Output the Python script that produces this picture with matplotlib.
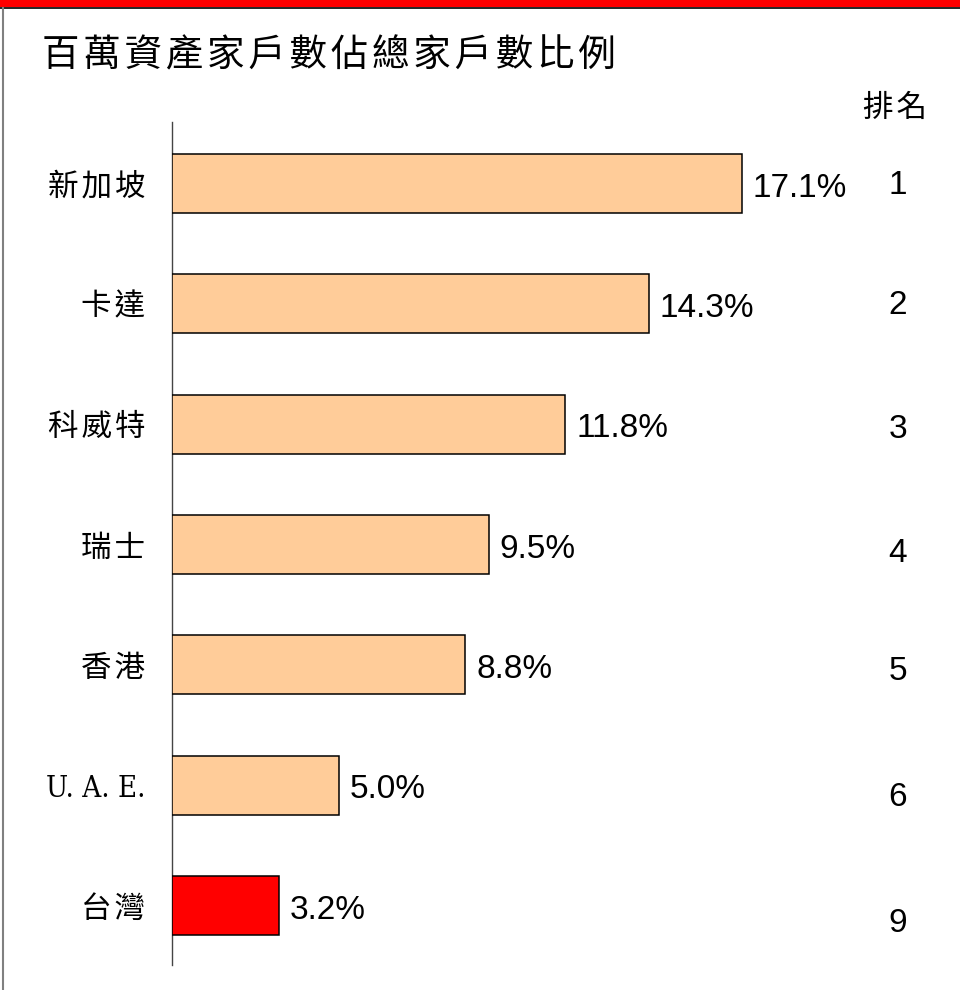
import matplotlib
matplotlib.use("Agg")
import matplotlib.pyplot as plt
from matplotlib.patches import Rectangle
from matplotlib.lines import Line2D

plt.rcParams['font.family'] = ['Noto Sans CJK TC', 'DejaVu Sans']

# data
countries = ['新加坡', '卡達', '科威特', '瑞士', '香港', 'U.A.E.', '台灣']
shares = [17.1, 14.3, 11.8, 9.5, 8.8, 5.0, 3.2]
ranks = [1, 2, 3, 4, 5, 6, 9]
title = '百萬資產家戶數佔總家戶數比例'
rank_header = '排名'

# styling
peach = '#FFCC99'
highlight = '#FF0000'
colors = [highlight if c == '台灣' else peach for c in countries]
HS = '\u200a'  # hair space for looser CJK letter spacing

W, H = 960, 990
fig = plt.figure(figsize=(W / 100, H / 100), dpi=100)

# top red band with black rule, thin grey frame line at left
fig.patches.append(Rectangle((0, 1 - 7 / H), 1, 7 / H, transform=fig.transFigure,
                             facecolor='#FF0000', edgecolor='none', zorder=0))
fig.lines.append(Line2D([0, 1], [1 - 8 / H, 1 - 8 / H], transform=fig.transFigure,
                        color='black', lw=1.2))
fig.lines.append(Line2D([2.5 / W, 2.5 / W], [0, 1 - 8 / H], transform=fig.transFigure,
                        color='#808080', lw=1.5))

ax_left, ax_top, ax_bottom = 172 / W, 1 - 122 / H, 1 - 965 / H
ax = fig.add_axes([ax_left, ax_bottom, 1 - ax_left, ax_top - ax_bottom])
ax.set_facecolor('none')

ypos = list(range(len(countries)))
ax.barh(ypos, shares, height=0.49, color=colors, edgecolor='black', linewidth=1.1, zorder=3)
ax.set_xlim(0, (W - 172) / 33.33)
ax.set_ylim(6.495, -0.511)

for s in ['top', 'right', 'bottom']:
    ax.spines[s].set_visible(False)
ax.spines['left'].set_color('#444444')
ax.spines['left'].set_linewidth(1.0)
ax.set_xticks([])
ax.set_yticks([])

# category labels
for y, name in zip(ypos, countries):
    if name.isascii():
        ax.text(-0.8, y + 0.03, name.replace('.', '. ').strip(),
                ha='right', va='center', fontsize=21,
                family=['DejaVu Serif', 'Liberation Serif'], fontstretch='condensed')
    else:
        ax.text(-0.8, y + 0.03, HS.join(name), ha='right', va='center', fontsize=22)

# value labels
for y, v in zip(ypos, shares):
    ax.text(v + 0.33, y + 0.04, f'{v:.1f}%', ha='left', va='center', fontsize=24,
            family='Liberation Sans')

# rank column
rank_y_px = [186, 306, 430, 553, 671, 798, 923]
for r, ypx in zip(ranks, rank_y_px):
    fig.text(898 / W, 1 - ypx / H, str(r), ha='center', va='center', fontsize=24,
             family='Liberation Sans')
fig.text(895 / W, 1 - 108 / H, HS.join(rank_header), ha='center', va='center', fontsize=22)

# title
fig.text(42 / W, 1 - 56 / H, HS.join(title), ha='left', va='center', fontsize=27)

fig.savefig('out.png', dpi=100)
